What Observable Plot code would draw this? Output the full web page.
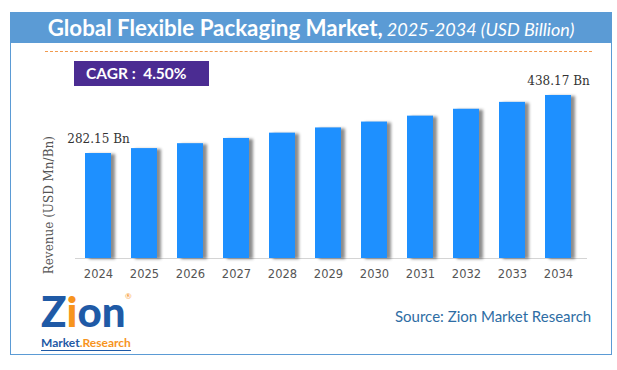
<!DOCTYPE html>
<html>
<head>
<meta charset="utf-8">
<script src="https://cdn.jsdelivr.net/npm/d3@7"></script>
<script src="https://cdn.jsdelivr.net/npm/@observablehq/plot@0.6"></script>
<style>
  html, body { margin: 0; padding: 0; background: #fff; }
  #wrap { position: relative; width: 617px; height: 370px; overflow: hidden; background: #fff; }
  #chart { position: absolute; left: 0; top: 0; }
  #frame { position: absolute; left: 10px; top: 12px; width: 602px; height: 343px; box-sizing: border-box; border: 1.5px solid #5B9BD5; pointer-events: none; }
  #header { position: absolute; left: 10px; top: 12px; width: 602px; height: 31px; background: #5B9BD5; color: #fff; text-align: center; white-space: nowrap; font-family: Lato, sans-serif; line-height: 31px; }
  #header .b { font-weight: 700; font-size: 22.3px; }
  #header .i { font-style: italic; font-weight: 400; font-size: 18px; }
  #dash { position: absolute; left: 45px; top: 51px; width: 547px; height: 0; border-top: 1.5px dashed #F19A4E; }
  #cagr { position: absolute; left: 74px; top: 61px; width: 135px; height: 25px; background: #4B2C92; color: #fff; font-family: Lato, sans-serif; font-weight: 700; font-size: 15.5px; line-height: 25px; box-sizing: border-box; padding-left: 12px; white-space: pre; }
  #source { position: absolute; left: 395px; top: 307px; font-family: Lato, sans-serif; font-size: 15px; color: #2E6DA4; white-space: nowrap; }
  #logo { position: absolute; left: 41px; top: 288px; width: 95px; height: 64px; font-family: Lato, sans-serif; }
  #logo .big { position: absolute; left: 0; top: -2.5px; font-weight: 900; font-size: 42px; line-height: 50.4px; letter-spacing: 0; color: #1F5AA6; white-space: nowrap; }
  #logo .big .i { color: #F7941D; }
  #logo .reg { position: absolute; left: 84px; top: 4px; font-size: 8px; line-height: 8px; color: #F7941D; }
  #logo .small { position: absolute; left: 0; top: 48px; font-weight: 700; font-size: 12px; line-height: 14px; white-space: nowrap; border-bottom: 1px solid #1F5AA6; color: #1F5AA6; }
  #logo .small .r { color: #F7941D; }
</style>
</head>
<body>
<div id="wrap">
  <div id="chart"></div>
  <div id="header"><span class="b">Global Flexible Packaging Market,</span> <span class="i">2025-2034 (USD Billion)</span></div>
  <div id="dash"></div>
  <div id="cagr">CAGR :  4.50%</div>
  <div id="logo">
    <div class="big">Z<span class="i">i</span>on</div>
    <div class="reg">®</div>
    <div class="small">Market<span class="r">.Research</span></div>
  </div>
  <div id="source">Source: Zion Market Research</div>
  <div id="frame"></div>
</div>
<script>
const years = ["2024","2025","2026","2027","2028","2029","2030","2031","2032","2033","2034"];
const revenue = [282.15, 295.4, 308.6, 322.6, 336.9, 350.9, 366.7, 382.6, 401.1, 419.6, 438.17];
const labelYears = ["2024", "2034"];
const labelTexts = ["282.15 Bn", "438.17 Bn"];
const yTitle = "Revenue (USD Mn/Bn)";

const data = years.map((y, i) => ({year: y, value: revenue[i]}));
const labels = labelYears.map((y, i) => ({year: y, value: revenue[years.indexOf(y)], text: labelTexts[i]}));

const chart = Plot.plot({
  width: 617,
  height: 370,
  marginLeft: 65,
  marginRight: 26,
  marginTop: 79.4,
  marginBottom: 112,
  style: {background: "transparent", fontFamily: "DejaVu Sans", fontSize: "11.5px", color: "#555"},
  x: {domain: years, padding: 0.435, round: false, tickSize: 0, tickPadding: 11, label: null},
  y: {domain: [0, 480], axis: null},
  marks: [
    Plot.ruleY([0], {stroke: "#d4d4d4", strokeWidth: 1, insetLeft: 10, insetRight: 4}),
    Plot.barY(data, {x: "year", y: "value", fill: "#1E90FF"}),
    Plot.text(labels, {x: "year", y: "value", text: "text", dy: -14, fontFamily: "DejaVu Serif", fontSize: 12, fill: "#333"}),
    Plot.text([yTitle], {frameAnchor: "left", textAnchor: "middle", dx: -16, dy: 36, rotate: -90, fontFamily: "DejaVu Serif", fontSize: 12, fill: "#555"})
  ]
});
chart.querySelectorAll('g[aria-label="bar"] rect').forEach(r => {
  r.style.filter = "drop-shadow(4px 1px 1.5px rgba(0,0,0,0.45))";
});
document.getElementById("chart").appendChild(chart);
</script>
</body>
</html>
